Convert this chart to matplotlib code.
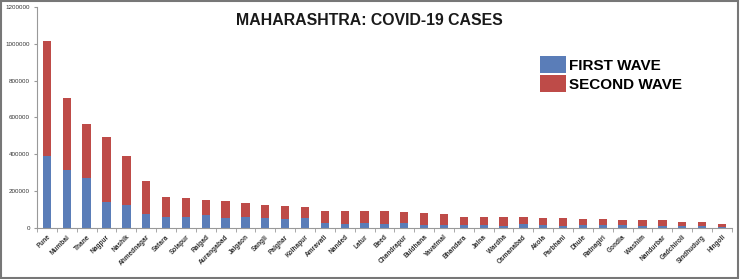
import matplotlib.pyplot as plt
from matplotlib.patches import Patch, Rectangle
import numpy as np

# Дані: райони та кількість випадків за хвилями
districts = ["Pune", "Mumbai", "Thane", "Nagpur", "Nashik", "Ahmednagar", "Satara",
             "Solapur", "Raigad", "Aurangabad", "Jalgaon", "Sangli", "Palghar",
             "Kolhapur", "Amravati", "Nanded", "Latur", "Beed", "Chandrapur",
             "Buldhana", "Yavatmal", "Bhandara", "Jalna", "Wardha", "Osmanabad",
             "Akola", "Parbhani", "Dhule", "Ratnagiri", "Gondia", "Washim",
             "Nandurbar", "Gadchiroli", "Sindhudurg", "Hingoli"]
total_cases = [1016000, 704000, 564000, 492000, 389000, 253000, 168000,
               163000, 150000, 147000, 138000, 127000, 118000,
               114000, 92000, 92000, 90000, 90000, 87000,
               83000, 74000, 61000, 60000, 60000, 60000,
               56000, 52000, 47000, 47000, 43000, 43000,
               42000, 31000, 31000, 20000]
first_wave = [392000, 315000, 273000, 141000, 123000, 76000, 58000,
              58000, 71000, 52000, 58000, 53000, 49000,
              53000, 27000, 23000, 27000, 20000, 27000,
              16000, 16000, 14000, 16000, 13000, 20000,
              15000, 11000, 18000, 16000, 16000, 11000,
              13000, 11000, 11000, 7000]
second_wave = [t - f for t, f in zip(total_cases, first_wave)]
y_ticks = [0, 200000, 400000, 600000, 800000, 1000000, 1200000]

blue = "#5A7DB8"
red = "#BE4B48"

fig = plt.figure(figsize=(7.4, 2.79), dpi=100)
ax = fig.add_axes([0.05, 0.183, 0.939, 0.792])

x = np.arange(len(districts))
ax.bar(x, first_wave, width=0.42, color=blue)
ax.bar(x, second_wave, width=0.42, bottom=first_wave, color=red)

ax.set_xlim(-0.5, len(districts) - 0.5)
ax.set_ylim(0, 1200000)
ax.set_yticks(y_ticks)
ax.set_yticklabels([str(v) for v in y_ticks], fontsize=4.5, family="Liberation Sans",
                   color="#333333")
ax.set_xticks(x)
ax.set_xticklabels(districts, rotation=45, ha="right", rotation_mode="anchor",
                   fontsize=4.7, fontweight="bold", family="Liberation Sans",
                   color="#333333")
ax.tick_params(axis="x", length=0, pad=4)
ax.tick_params(axis="y", length=2, color="#999999", pad=3)
# засічки між категоріями
ax.set_xticks(np.arange(len(districts) + 1) - 0.5, minor=True)
ax.tick_params(axis="x", which="minor", length=3, color="#999999")

for side in ["top", "right"]:
    ax.spines[side].set_visible(False)
for side in ["left", "bottom"]:
    ax.spines[side].set_color("#999999")
    ax.spines[side].set_linewidth(0.8)

fig.text(0.499, 0.928, "MAHARASHTRA: COVID-19 CASES", ha="center", va="center",
         fontsize=11.4, fontweight="bold", family="Liberation Sans", color="#1a1a1a")

handles = [Patch(facecolor=blue, label="FIRST WAVE"),
           Patch(facecolor=red, label="SECOND WAVE")]
fig.legend(handles=handles, loc="upper left", bbox_to_anchor=(0.719, 0.826),
           frameon=False,
           prop={"family": "Liberation Sans", "size": 11, "weight": "bold"},
           handlelength=1.75, handleheight=1.3, handletextpad=0.18,
           labelspacing=0.15, borderpad=0)

# рамка навколо рисунка
fig.patches.append(Rectangle((0.002, 0.005), 0.995, 0.99, transform=fig.transFigure,
                             fill=False, edgecolor="#777777", linewidth=1.5))

fig.savefig("out.png", dpi=100)
